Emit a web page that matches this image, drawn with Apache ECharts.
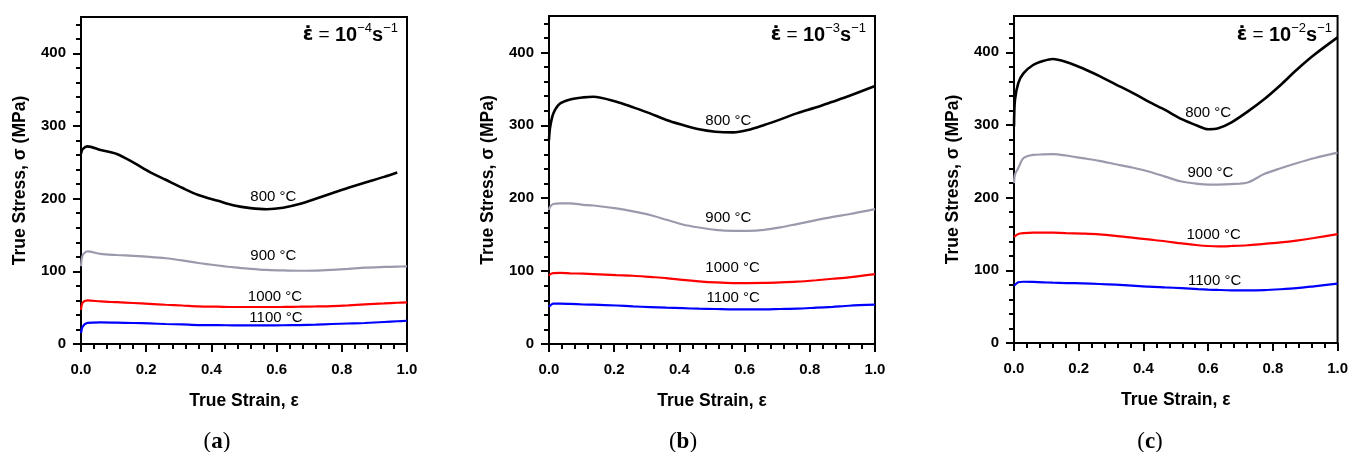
<!DOCTYPE html>
<html>
<head>
<meta charset="utf-8">
<script src="https://cdn.jsdelivr.net/npm/echarts@6/dist/echarts.min.js"></script>
<style>
html,body{margin:0;padding:0;background:#fff;}
#c{width:1351px;height:452px;}
</style>
</head>
<body>
<div id="c"></div>
<script>
// ---------- DATA ----------
const temps = ['800 °C', '900 °C', '1000 °C', '1100 °C'];
const rates = ['−4', '−3', '−2'];
const captions = ['a', 'b', 'c'];
const xTicks = [0, 0.2, 0.4, 0.6, 0.8, 1.0];
const yTicks = [0, 100, 200, 300, 400];

// Panel (a): strain rate 1e-4 s^-1
const strainA = [0, 0.005, 0.02, 0.06, 0.11, 0.16, 0.21, 0.26, 0.31, 0.36, 0.42, 0.47, 0.52, 0.57, 0.62, 0.67, 0.72, 0.77, 0.82, 0.87, 0.93, 0.97, 1.0];
const a800  = [262, 268, 272, 267, 261.5, 250, 237, 226, 215, 205, 197, 190.5, 187, 185.5, 187.5, 192.5, 200, 207.5, 215, 222, 230, 236, null];
const a900  = [107, 122, 127.5, 124, 122.5, 121.4, 120, 118, 115, 111.5, 108, 105.4, 103.5, 102, 101.2, 100.8, 101, 102, 103.3, 105, 106, 106.5, 106.8];
const a1000 = [47, 57, 60, 58.6, 57.5, 56.4, 55.2, 54, 53, 51.8, 51.3, 50.9, 50.9, 50.9, 51, 51.3, 51.7, 52.2, 53.2, 54.5, 55.8, 56.8, 57.3];
const a1100 = [15, 24, 29, 29.8, 29.4, 28.9, 28.3, 27.5, 26.9, 26.1, 25.9, 25.7, 25.7, 25.7, 25.8, 26.1, 26.7, 27.5, 28.2, 28.9, 30.3, 31.3, 32];

// Panel (b): strain rate 1e-3 s^-1
const strainB = [0, 0.003, 0.013, 0.034, 0.065, 0.105, 0.136, 0.207, 0.258, 0.31, 0.36, 0.41, 0.46, 0.51, 0.565, 0.61, 0.66, 0.71, 0.76, 0.82, 0.87, 0.92, 1.0];
const b800  = [280, 296, 316, 330, 335.6, 338.4, 339.3, 332.4, 324.7, 316.4, 307.3, 300.5, 294.5, 291.3, 290.4, 293.6, 300.5, 308.2, 316.4, 324.7, 332.4, 340.2, 353.9];
const b900  = [184, 188, 192, 193, 193, 191, 190, 186, 182, 177, 170.5, 164, 159.8, 156.6, 155.3, 155.3, 156.6, 160, 164.5, 170, 174.5, 178, 185];
const b1000 = [93.6, 95.5, 97.3, 97.5, 97, 96.5, 96, 94.5, 93.6, 92, 90.4, 88, 86, 84.5, 83.6, 83.6, 83.8, 84.5, 85.5, 87.5, 89.5, 91.5, 95.9];
const b1100 = [50.7, 52.5, 55.3, 55.5, 55, 54.2, 53.9, 52.8, 51.6, 50.7, 49.8, 49.1, 48.4, 48, 47.5, 47.5, 47.5, 48, 48.4, 49.8, 51, 52.5, 53.9];

// Panel (c): strain rate 1e-2 s^-1
const strainC = [0, 0.003, 0.013, 0.029, 0.059, 0.09, 0.12, 0.161, 0.212, 0.263, 0.314, 0.365, 0.416, 0.467, 0.518, 0.569, 0.6, 0.631, 0.671, 0.722, 0.773, 0.824, 0.873, 0.927, 1.0];
const c800  = [298, 334.5, 357.4, 371, 382.6, 388, 390.8, 386.7, 378, 367.5, 356, 344.6, 332.2, 320.7, 308, 298.7, 294.2, 295.5, 303.3, 318.4, 335.4, 355.1, 375.7, 396.3, 420.6];
const c900  = [220, 232, 240.5, 254.3, 258.9, 259.5, 259.8, 258, 254.3, 250.6, 246, 241.5, 236, 229, 222.2, 219, 218, 218, 218.6, 220.8, 232.5, 240.5, 247.4, 254.3, 262];
const c1000 = [145.7, 147, 150, 151.2, 152, 152, 151.8, 151.2, 150.5, 149.5, 147.5, 145, 142.5, 140, 137, 134.5, 133.5, 133, 133.5, 134.5, 136.5, 138.5, 141, 144.5, 149.8];
const c1100 = [78.8, 80, 83.5, 84.3, 84, 83.5, 83, 82.5, 82, 81.2, 80.2, 79, 77.5, 76.5, 75.5, 74.2, 73.5, 73, 72.5, 72.4, 72.8, 74, 75.5, 78, 81.6];

// curve label anchors [strain, stress] per panel
const labelPosA = [[0.59, 202], [0.59, 121.4], [0.595, 65.5], [0.598, 35.7]];
const labelPosB = [[0.55, 306.4], [0.55, 172.6], [0.563, 104.1], [0.565, 63]];
const labelPosC = [[0.6, 316.2], [0.607, 234.3], [0.617, 148.9], [0.62, 86.1]];

// ---------- LAYOUT / STYLE ----------
const colors = ['#000000', '#9a9aad', '#ff0000', '#0000ff'];
const widths = [2.6, 2.2, 2.2, 2.2];
const grids = [
  {left: 81, top: 17, width: 326, height: 327},
  {left: 549, top: 16, width: 326, height: 328},
  {left: 1014, top: 16, width: 327, height: 327}
];
const titleRight = [398, 866, 1332];
const captionX = [217, 683, 1150];
const FF = '"Liberation Sans", Arial, sans-serif';

const panels = [
  {strain: strainA, ys: [a800, a900, a1000, a1100], labels: labelPosA},
  {strain: strainB, ys: [b800, b900, b1000, b1100], labels: labelPosB},
  {strain: strainC, ys: [c800, c900, c1000, c1100], labels: labelPosC}
];

const yMinor = [];
for (let v = 20; v < 450; v += 20) if (v % 100 !== 0) yMinor.push(v);

const option = {
  backgroundColor: '#ffffff',
  animation: false,
  grid: grids.map(g => Object.assign({show: true, borderColor: '#000', borderWidth: 2, backgroundColor: 'transparent'}, g)),
  xAxis: [],
  yAxis: [],
  series: [],
  graphic: []
};

panels.forEach((p, gi) => {
  option.xAxis.push({
    type: 'value', gridIndex: gi, min: 0, max: 1, interval: 0.2,
    name: 'True Strain, ε', nameLocation: 'middle', nameGap: 48,
    nameTextStyle: {fontFamily: FF, fontWeight: 'bold', fontSize: 17.5, color: '#000'},
    axisLine: {show: true, lineStyle: {color: '#000', width: 2}},
    axisTick: {show: true, inside: false, length: 8, lineStyle: {color: '#000', width: 2}},
    minorTick: {show: true, splitNumber: 5, length: 5, lineStyle: {color: '#000', width: 2}},
    splitLine: {show: false},
    axisLabel: {margin: 18, fontFamily: FF, fontWeight: 'bold', fontSize: 15, color: '#000',
      formatter: v => v.toFixed(1)}
  });
  option.yAxis.push({
    type: 'value', gridIndex: gi, min: 0, max: 450,
    name: 'True Stress, σ (MPa)', nameLocation: 'middle', nameGap: 52,
    nameTextStyle: {fontFamily: FF, fontWeight: 'bold', fontSize: 17.5, color: '#000'},
    axisLine: {show: true, lineStyle: {color: '#000', width: 2}},
    axisTick: {show: true, inside: false, length: 8, customValues: yTicks, lineStyle: {color: '#000', width: 2}},
    splitLine: {show: false},
    axisLabel: {margin: 15, customValues: yTicks, fontFamily: FF, fontWeight: 'bold', fontSize: 15, color: '#000'}
  });
  option.yAxis.push({
    type: 'value', gridIndex: gi, min: 0, max: 450, position: 'left',
    axisLine: {show: false},
    axisTick: {show: true, inside: false, length: 5, customValues: yMinor, lineStyle: {color: '#000', width: 2}},
    axisLabel: {show: false},
    splitLine: {show: false}
  });

  p.ys.forEach((ys, si) => {
    option.series.push({
      type: 'line', xAxisIndex: gi, yAxisIndex: gi * 2,
      name: temps[si],
      data: p.strain.map((x, i) => [x, ys[i]]),
      showSymbol: false, symbol: 'none',
      smooth: 0.3,
      lineStyle: {color: colors[si], width: widths[si]},
      z: 3 + (si === 0 ? 1 : 0),
      markPoint: {
        symbol: 'circle', symbolSize: 1,
        itemStyle: {color: 'rgba(0,0,0,0)'},
        label: {show: true, position: 'inside', formatter: '{b}', color: '#000',
          fontFamily: FF, fontSize: 15, fontWeight: 'normal'},
        data: [{name: temps[si], coord: p.labels[si]}]
      }
    });
  });

  option.graphic.push({
    type: 'text', x: titleRight[gi], y: 22, z: 10,
    style: {
      text: '{e|ε̇}{q| = }{b|10}{s|' + rates[gi] + '}{b|s}{s|−1}',
      align: 'right', verticalAlign: 'top',
      rich: {
        e: {fontFamily: '"DejaVu Sans", sans-serif', fontSize: 19, fontWeight: 'bold', lineHeight: 26, color: '#000'},
        q: {fontFamily: FF, fontSize: 19, fontWeight: 'normal', lineHeight: 26, color: '#000'},
        b: {fontFamily: FF, fontSize: 20, fontWeight: 'bold', lineHeight: 26, color: '#000'},
        s: {fontFamily: FF, fontSize: 13, fontWeight: 'normal', lineHeight: 11, verticalAlign: 'top', color: '#000'}
      }
    }
  });
  option.graphic.push({
    type: 'text', x: captionX[gi], y: 442, z: 10,
    style: {
      text: '{p|(}{l|' + captions[gi] + '}{p|)}',
      align: 'center', verticalAlign: 'middle',
      rich: {
        p: {fontFamily: '"Liberation Serif", serif', fontSize: 23, color: '#000'},
        l: {fontFamily: '"Liberation Serif", serif', fontSize: 23, fontWeight: 'bold', color: '#000'}
      }
    }
  });
});

const chart = echarts.init(document.getElementById('c'), null, {renderer: 'canvas'});
chart.setOption(option);
</script>
</body>
</html>
